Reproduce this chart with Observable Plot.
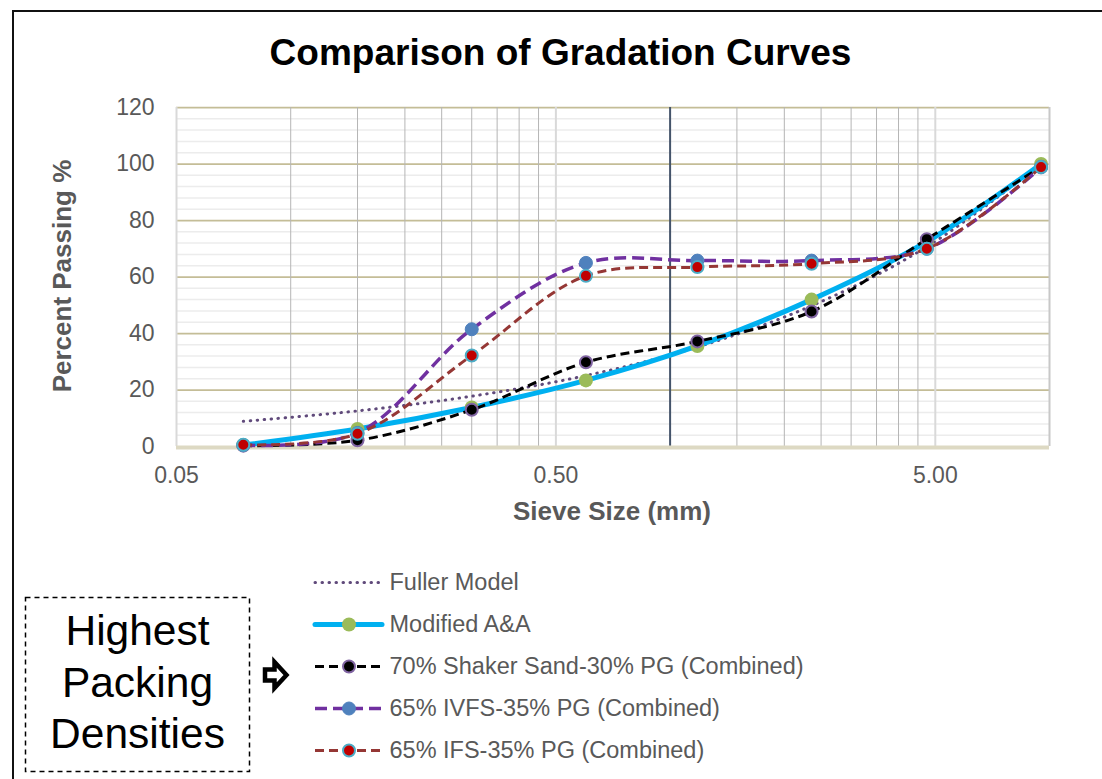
<!DOCTYPE html>
<html>
<head>
<meta charset="utf-8">
<script src="https://cdn.jsdelivr.net/npm/d3@7"></script>
<script src="https://cdn.jsdelivr.net/npm/@observablehq/plot@0.6"></script>
<style>
  html, body { margin: 0; padding: 0; background: #fff; overflow: hidden; }
  #wrap { position: relative; width: 1102px; height: 779px; overflow: hidden; font-family: "Liberation Sans", Arial, sans-serif; }
  #frame { position: absolute; left: 12px; top: 10px; width: 1200px; height: 900px; border-left: 2px solid #111; border-top: 2px solid #111; }
  #title { position: absolute; left: 0; top: 34px; width: 1121px; text-align: center; font-weight: bold; font-size: 37px; line-height: 37px; color: #000; }
  #ylabel { position: absolute; left: 62px; top: 276px; transform: translate(-50%, -50%) rotate(-90deg); font-weight: bold; font-size: 26px; color: #595959; white-space: nowrap; }
  #xlabel { position: absolute; left: 612px; top: 511px; transform: translate(-50%, -50%); font-weight: bold; font-size: 26px; color: #595959; white-space: nowrap; }
  #chart { position: absolute; left: 0; top: 0; }
  #legend { position: absolute; left: 290px; top: 560px; }
  #note { position: absolute; left: 0; top: 560px; }
</style>
</head>
<body>
<div id="wrap">
  <div id="frame"></div>
  <div id="chart"></div>
  <div id="title">Comparison of Gradation Curves</div>
  <div id="ylabel">Percent Passing %</div>
  <div id="xlabel">Sieve Size (mm)</div>
  <div id="legend"></div>
  <svg id="note" width="320" height="219" xmlns="http://www.w3.org/2000/svg">
    <rect x="25.5" y="37.5" width="224" height="174" fill="none" stroke="#000" stroke-width="1.5" stroke-dasharray="5,4"/>
    <g font-family="Liberation Sans, Arial, sans-serif" font-size="42.5" fill="#000" text-anchor="middle">
      <text x="137.5" y="85">Highest</text>
      <text x="137.5" y="137">Packing</text>
      <text x="137.5" y="188">Densities</text>
    </g>
    <polygon points="265,109.5 274.5,109.5 274.5,102 286.5,115 274.5,128 274.5,120.5 265,120.5" fill="#fff" stroke="#000" stroke-width="4.5" stroke-linejoin="miter" stroke-miterlimit="10"/>
  </svg>
</div>
<script>
// ---- data ----
const seriesNames = [
  "Fuller Model",
  "Modified A&A",
  "70% Shaker Sand-30% PG (Combined)",
  "65% IVFS-35% PG (Combined)",
  "65% IFS-35% PG (Combined)"
];
const sieveSizes = [0.075, 0.15, 0.3, 0.6, 1.18, 2.36, 4.75, 9.5];
const fullerModel = [8.9, 12.6, 17.8, 25.1, 35.2, 49.8, 70.7, 100];
const modifiedAA  = [0.5, 6.2, 13.8, 23.4, 35.6, 52.0, 72.5, 100];
const shakerSand  = [0.3, 2.2, 13.0, 29.8, 37.2, 47.8, 73.4, 99.0];
const ivfs        = [0.5, 4.8, 41.5, 65.0, 65.8, 65.8, 70.0, 98.8];
const ifs         = [0.6, 4.5, 32.2, 60.4, 63.5, 64.7, 70.0, 98.9];
const xTicks = [0.05, 0.5, 5];
const xTickLabels = ["0.05", "0.50", "5.00"];
const yTicks = [0, 20, 40, 60, 80, 100, 120];
const yMinorTicks = [4, 8, 12, 16, 24, 28, 32, 36, 44, 48, 52, 56, 64, 68, 72, 76, 84, 88, 92, 96, 104, 108, 112, 116];
const xMinorTicks = [0.1, 0.15, 0.2, 0.25, 0.3, 0.35, 0.4, 0.45, 1.5, 2, 2.5, 3, 3.5, 4, 4.5];
const xMarkerLine = [1.0];

// ---- styles ----
const styles = {
  "Fuller Model": {stroke: "#604a7b", width: 3, dash: "0.5,6.5", cap: "round", marker: null},
  "Modified A&A": {stroke: "#00b0f0", width: 5, dash: null, cap: "round", marker: {fill: "#9bbb59", stroke: "#9bbb59", r: 7, sw: 0}},
  "70% Shaker Sand-30% PG (Combined)": {stroke: "#000000", width: 3, dash: "9,5", cap: "butt", marker: {fill: "#000000", stroke: "#8064a2", r: 6, sw: 2}},
  "65% IVFS-35% PG (Combined)": {stroke: "#7030a0", width: 3.5, dash: "12,6", cap: "butt", marker: {fill: "#4f81bd", stroke: "#4f81bd", r: 6.5, sw: 1}},
  "65% IFS-35% PG (Combined)": {stroke: "#953735", width: 3, dash: "9,5", cap: "butt", marker: {fill: "#c00000", stroke: "#4bacc6", r: 6, sw: 2}}
};

const seriesValues = [fullerModel, modifiedAA, shakerSand, ivfs, ifs];
const table = seriesNames.map((name, i) => sieveSizes.map((s, j) => ({series: name, size: s, passing: seriesValues[i][j]})));
const xTickTable = xTicks.map((v, i) => ({v, label: xTickLabels[i]}));

const font = "Liberation Sans, Arial, sans-serif";

const marks = [
  Plot.ruleY(yMinorTicks, {stroke: "#ececec", strokeWidth: 1.5}),
  Plot.ruleY(yTicks.filter(d => d > 0), {stroke: "#c4bd97", strokeWidth: 1.75}),
  Plot.ruleX(xMinorTicks, {stroke: "#b5b5b5", strokeWidth: 1}),
  Plot.ruleX(xTicks, {stroke: "#d9d9d9", strokeWidth: 2}),
  Plot.ruleX([10], {stroke: "#c8c8c8", strokeWidth: 2}),
  Plot.ruleX(xMarkerLine, {stroke: "#44546a", strokeWidth: 2}),
  Plot.ruleY([0], {stroke: "#ddd9c3", strokeWidth: 4, dy: 1}),
  Plot.text(xTickTable, {x: "v", text: "label", frameAnchor: "bottom", lineAnchor: "top", dy: 20, fontSize: 23, fill: "#595959"}),
  Plot.axisY({ticks: yTicks, tickFormat: d => String(d), tickSize: 0, tickPadding: 22, fontSize: 23, fill: "#595959", label: null})
];

seriesNames.forEach((name, i) => {
  const st = styles[name];
  marks.push(Plot.line(table[i], {
    x: "size", y: "passing", curve: "catmull-rom",
    stroke: st.stroke, strokeWidth: st.width, strokeDasharray: st.dash, strokeLinecap: st.cap
  }));
  if (st.marker) {
    marks.push(Plot.dot(table[i], {
      x: "size", y: "passing", r: st.marker.r, fill: st.marker.fill,
      stroke: st.marker.stroke, strokeWidth: st.marker.sw
    }));
  }
});

const chart = Plot.plot({
  width: 1102,
  height: 530,
  marginLeft: 176,
  marginRight: 53,
  marginTop: 107,
  marginBottom: 84,
  style: {fontFamily: font, background: "transparent", overflow: "visible"},
  x: {type: "log", domain: [0.05, 10], axis: null},
  y: {domain: [0, 120]},
  marks
});
document.getElementById("chart").appendChild(chart);

// ---- legend (drawn with Plot) ----
const legendMarks = [];
seriesNames.forEach((name) => {
  const st = styles[name];
  legendMarks.push(Plot.ruleY([name], {y: d => d, x1: 0, x2: 1, stroke: st.stroke, strokeWidth: st.width, strokeDasharray: st.dash, strokeLinecap: st.cap}));
  if (st.marker) {
    legendMarks.push(Plot.dot([name], {y: d => d, x: 0.5, r: st.marker.r, fill: st.marker.fill, stroke: st.marker.stroke, strokeWidth: st.marker.sw}));
  }
});
legendMarks.push(Plot.text(seriesNames, {y: d => d, x: 1, text: d => d, textAnchor: "start", dx: 7, fontSize: 23.5, fill: "#595959"}));

const legend = Plot.plot({
  width: 560,
  height: 210,
  margin: 0,
  style: {fontFamily: font, background: "transparent", overflow: "visible"},
  x: {type: "linear", domain: [0, 1], range: [25, 92], axis: null},
  y: {type: "point", domain: seriesNames, range: [21.7, 190.7], padding: 0, axis: null},
  marks: legendMarks
});
document.getElementById("legend").appendChild(legend);
</script>
</body>
</html>
